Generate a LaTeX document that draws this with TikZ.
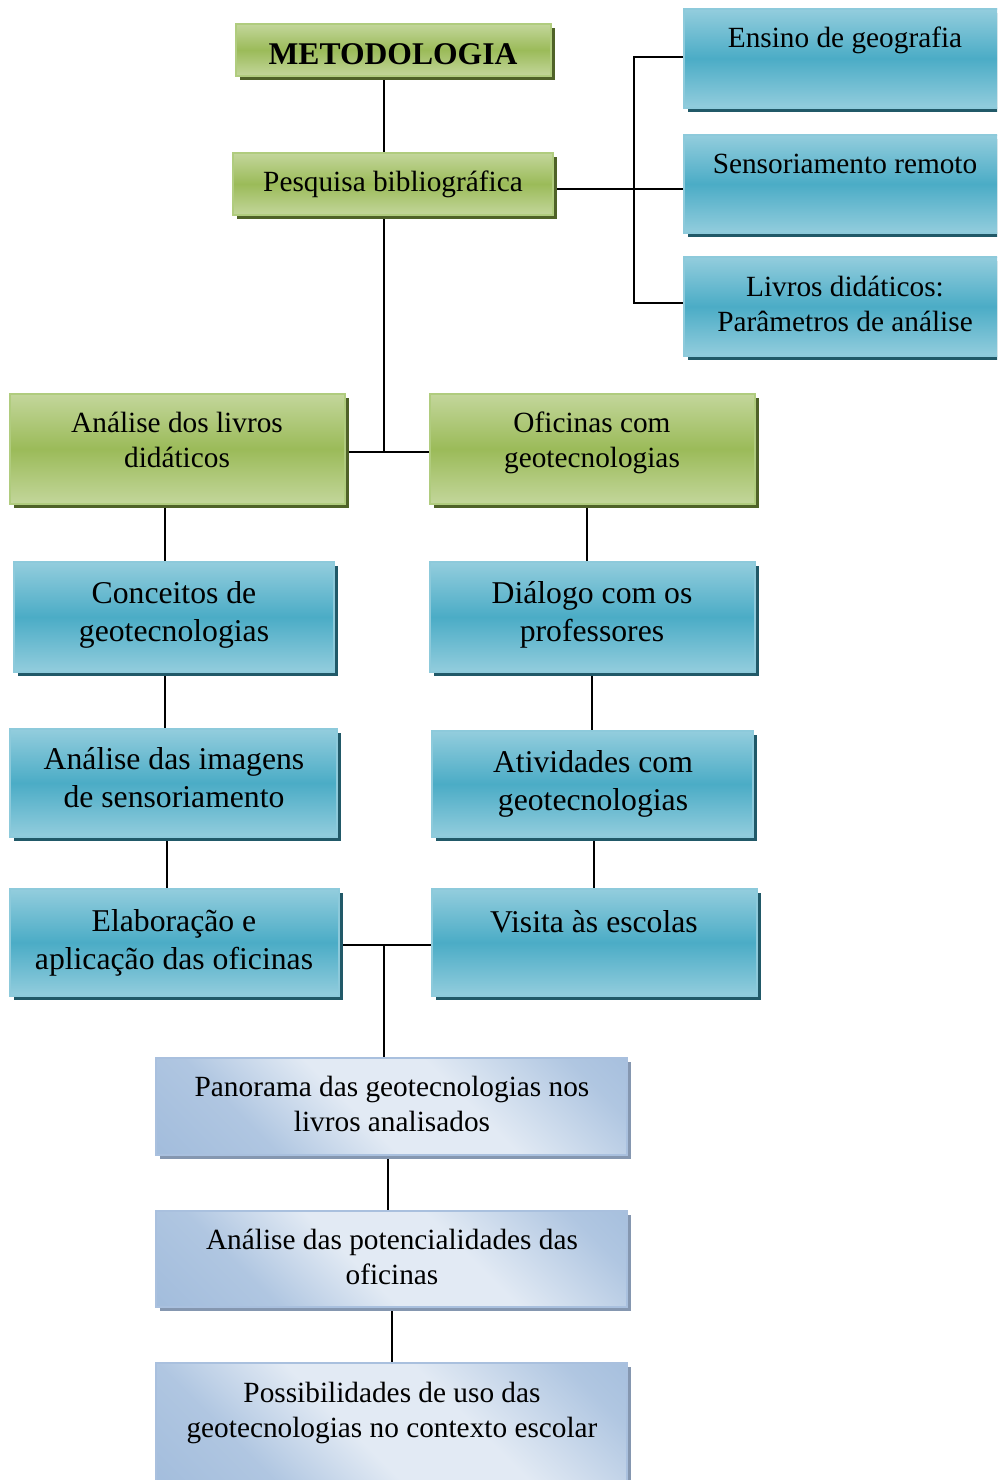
\documentclass[tikz,border=0pt]{standalone}
\usepackage{fontspec}
\setmainfont{Liberation Serif}
\usetikzlibrary{shadows,backgrounds}
\definecolor{grnlight}{HTML}{C3D69B}
\definecolor{grnmid}{HTML}{9BBB59}
\definecolor{grnborder}{HTML}{B0CC7E}
\definecolor{grnshadow}{HTML}{4F6228}
\definecolor{bluelight}{HTML}{93CDDD}
\definecolor{bluemid}{HTML}{4BACC6}
\definecolor{blueborder}{HTML}{8DCADB}
\definecolor{blueshadow}{HTML}{215968}
\definecolor{lavdark}{HTML}{95B3D7}
\definecolor{lavlight}{HTML}{E2EAF4}
\definecolor{lavborder}{HTML}{A9C0DE}
\definecolor{lavshadow}{HTML}{8597B0}
\pgfdeclareverticalshading{lavshade}{100bp}{color(0bp)=(lavdark); color(30bp)=(lavdark!65!lavlight); color(45bp)=(lavlight); color(60bp)=(lavlight); color(78bp)=(lavdark!65!lavlight); color(100bp)=(lavdark)}
\newcommand\fa{\fontsize{29.3}{35}\selectfont}
\newcommand\fb{\fontsize{31.7}{38}\selectfont}
\tikzset{
  box/.style={rectangle, inner sep=0pt, outer sep=0pt, anchor=north west, line width=2pt},
  greenbox/.style={box, draw=grnborder, top color=grnlight, bottom color=grnlight, middle color=grnmid,
    drop shadow={shadow xshift=4pt, shadow yshift=-4pt, fill=grnshadow, opacity=1}},
  bluebox/.style={box, draw=blueborder, top color=bluelight, bottom color=bluelight, middle color=bluemid,
    drop shadow={shadow xshift=4pt, shadow yshift=-4pt, fill=blueshadow, opacity=1}},
  lavbox/.style={box, draw=lavborder, shading=lavshade, shading angle=-45,
    drop shadow={shadow xshift=4pt, shadow yshift=-4pt, fill=lavshadow, opacity=1}},
  txt/.style={inner sep=0pt, align=center, anchor=base, font=\fa},
  txtb/.style={inner sep=0pt, align=center, anchor=base, font=\fb},
  conn/.style={line width=2pt, black},
}
\begin{document}
\begin{tikzpicture}[x=1pt, y=-1pt]
\useasboundingbox (0,0) rectangle (997,1480);
\clip (0,0) rectangle (997,1480);
% boxes
\node[greenbox, minimum width=315pt, minimum height=52pt] (metod) at (236,24) {};
\node[greenbox, minimum width=320pt, minimum height=62pt] (pesq) at (233,153) {};
\node[bluebox, minimum width=330pt, minimum height=99pt] (ensino) at (684,9) {};
\node[bluebox, minimum width=330pt, minimum height=98pt] (sensor) at (684,135) {};
\node[bluebox, minimum width=330pt, minimum height=99pt] (livros) at (684,257) {};
\node[greenbox, minimum width=335pt, minimum height=110pt] (analiv) at (10,394) {};
\node[greenbox, minimum width=325pt, minimum height=110pt] (ofic) at (430,394) {};
\node[bluebox, minimum width=320pt, minimum height=110pt] (conc) at (14,562) {};
\node[bluebox, minimum width=325pt, minimum height=110pt] (dial) at (430,562) {};
\node[bluebox, minimum width=327pt, minimum height=108pt] (anaimg) at (10,729) {};
\node[bluebox, minimum width=321pt, minimum height=106pt] (ativ) at (432,731) {};
\node[bluebox, minimum width=329pt, minimum height=107pt] (elab) at (10,889) {};
\node[bluebox, minimum width=325pt, minimum height=107pt] (visita) at (432,889) {};
\node[lavbox, minimum width=471pt, minimum height=97pt] (panor) at (156,1058) {};
\node[lavbox, minimum width=471pt, minimum height=96pt] (potenc) at (156,1211) {};
\node[lavbox, minimum width=471pt, minimum height=130pt] (possib) at (156,1363) {};
% texts (anchor = baseline of last line)
\node[txt, font=\fontsize{31.6}{38}\selectfont\bfseries] (tmetod) at (393,64) {METODOLOGIA};
\node[txt] (tpesq) at (393,191) {Pesquisa bibliográfica};
\node[txt] (tensino) at (845,48) {Ensino de geografia};
\node[txt] (tsensor) at (845,173) {Sensoriamento remoto};
\node[txt] (tlivros) at (845,331) {Livros didáticos:\\Parâmetros de análise};
\node[txt] (tanaliv) at (177,467) {Análise dos livros\\didáticos};
\node[txt] (tofic) at (592,467) {Oficinas com\\geotecnologias};
\node[txtb] (tconc) at (174,641) {Conceitos de\\geotecnologias};
\node[txtb] (tdial) at (592,641) {Diálogo com os\\professores};
\node[txtb] (tanaimg) at (174,807) {Análise das imagens\\de sensoriamento};
\node[txtb] (tativ) at (593,810) {Atividades com\\geotecnologias};
\node[txtb] (telab) at (174,969) {Elaboração e\\aplicação das oficinas};
\node[txtb] (tvisita) at (594,932) {Visita às escolas};
\node[txt] (tpanor) at (392,1131) {Panorama das geotecnologias nos\\livros analisados};
\node[txt] (tpotenc) at (392,1284) {Análise das potencialidades das\\oficinas};
\node[txt] (tpossib) at (392,1437) {Possibilidades de uso das\\geotecnologias no contexto escolar};
% junction coordinates
\coordinate (j1) at (384,452);
\coordinate (br) at (634,189);
\coordinate (b1) at (634,57);
\coordinate (b3) at (634,303);
\coordinate (j2) at (384,945);
\coordinate (xa) at (165,0);
\coordinate (xb) at (167,0);
\coordinate (xc) at (587,0);
\coordinate (xd) at (592,0);
\coordinate (xe) at (594,0);
\coordinate (xf) at (388,0);
\coordinate (xg) at (392,0);
\begin{scope}[on background layer]
\draw[conn] (metod.south -| j1) -- (pesq.north -| j1);
\draw[conn] (pesq.south -| j1) -- (j1);
\draw[conn] (analiv.east |- j1) -- (ofic.west |- j1);
\draw[conn] (pesq.east |- br) -- (sensor.west |- br);
\draw[conn] (ensino.west |- b1) -- (b1) -- (b3) -- (livros.west |- b3);
\draw[conn] (analiv.south -| xa) -- (conc.north -| xa);
\draw[conn] (conc.south -| xa) -- (anaimg.north -| xa);
\draw[conn] (anaimg.south -| xb) -- (elab.north -| xb);
\draw[conn] (ofic.south -| xc) -- (dial.north -| xc);
\draw[conn] (dial.south -| xd) -- (ativ.north -| xd);
\draw[conn] (ativ.south -| xe) -- (visita.north -| xe);
\draw[conn] (elab.east |- j2) -- (visita.west |- j2);
\draw[conn] (j2) -- (panor.north -| j2);
\draw[conn] (panor.south -| xf) -- (potenc.north -| xf);
\draw[conn] (potenc.south -| xg) -- (possib.north -| xg);
\end{scope}
\end{tikzpicture}
\end{document}
